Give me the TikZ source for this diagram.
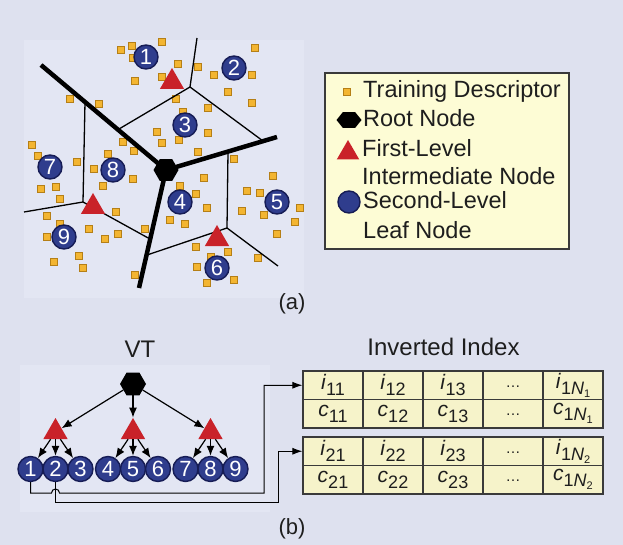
\documentclass[tikz,border=0pt]{standalone}
\usepackage{fontspec}
\setmainfont{Liberation Sans}
\usetikzlibrary{shapes.geometric,arrows.meta}

\definecolor{bgcol}{HTML}{DEE1EF}
\definecolor{panelcol}{HTML}{E3E6F3}
\definecolor{descrfill}{HTML}{F3B531}
\definecolor{descrline}{HTML}{B57F16}
\definecolor{intercol}{HTML}{C92229}
\definecolor{leaffill}{HTML}{2F3D8D}
\definecolor{leafline}{HTML}{161C55}
\definecolor{legendfill}{HTML}{FDFCD5}
\definecolor{cellfill}{HTML}{F6F3CA}
\definecolor{boxline}{HTML}{3A3A3A}
\definecolor{textcol}{HTML}{1E1E1E}

\newcommand{\cellsub}[2]{\textit{#1}\raisebox{-6pt}{\fontsize{18}{18}\selectfont#2}}
\newcommand{\nsub}[1]{\raisebox{-3pt}{\fontsize{11}{11}\selectfont#1}}

\tikzset{
  descr/.style={draw=descrline, fill=descrfill, line width=0.6pt, minimum size=7.5pt, inner sep=0pt},
  inter/.style={regular polygon, regular polygon sides=3, fill=intercol, minimum size=28pt, inner sep=0pt},
  leaf/.style={circle, fill=leaffill, draw=leafline, line width=1.4pt, minimum size=25pt,
    inner sep=0pt, text=white, font=\fontsize{22}{22}\selectfont},
  rootnode/.style={regular polygon, regular polygon sides=6, fill=black, minimum size=26pt, inner sep=0pt},
  voronoi/.style={line width=1.3pt},
  voronoimain/.style={line width=4.5pt},
  legendtext/.style={anchor=base west, inner sep=0pt, text=textcol, font=\fontsize{23.5}{23.5}\selectfont},
  sublabel/.style={text=textcol, font=\fontsize{22}{22}\selectfont},
  heading/.style={anchor=base, inner sep=0pt, text=textcol, font=\fontsize{24}{24}\selectfont},
  cell/.style={draw=boxline, fill=cellfill, line width=1.2pt, minimum width=60pt, minimum height=28.5pt,
    inner sep=0pt, text=textcol, font=\fontsize{21}{21}\selectfont},
  link/.style={line width=1pt, -{Latex[length=10pt,width=7pt]}},
}

\begin{document}
\begin{tikzpicture}[x=1pt, y=-1pt,
  level 1/.style={level distance=48pt, sibling distance=77.5pt},
  level 2/.style={level distance=37pt, sibling distance=25pt},
  edge from parent/.style={draw, line width=1.2pt, -{Latex[length=10pt,width=8pt]}}]
\useasboundingbox (0,0) rectangle (623,545);
\fill[bgcol] (0,0) rectangle (623,545);
\fill[panelcol] (24,40) rectangle (304,298);
\fill[panelcol] (20,365) rectangle (270,512);

% (a) descriptors
\foreach \x/\y [count=\n] in {121/50, 132/46, 162/42, 133/58, 135/81, 162/77, 178/64, 198/67,
    255/48, 214/75, 252/75, 228/92, 252/103, 176/99, 208/108, 183/112, 70/99, 99/104,
    157/132, 162/143, 179/140, 208/133, 123/142, 134/151, 198/152, 108/154, 32/145,
    38/156, 77/162, 94/169, 133/179, 103/186, 41/189, 56/187, 60/199, 234/159, 204/178,
    180/186, 196/194, 207/208, 273/176, 247/191, 260/193, 242/211, 264/215, 300/208,
    295/222, 277/234, 116/212, 47/216, 60/224, 89/229, 105/239, 118/234, 145/229,
    47/237, 79/256, 54/262, 83/268, 170/220, 185/224, 196/247, 228/252, 211/257,
    197/267, 258/258, 234/280, 207/283, 135/275}
  \node[descr] (d\n) at (\x,\y) {};

% (a) cell borders
\coordinate (ctr) at (166,170);
\coordinate (rnw) at (41,65);
\coordinate (re) at (277,137);
\coordinate (rs) at (139,288);
\coordinate (ja) at (190,87);
\coordinate (jb) at (83,202);
\coordinate (jc) at (227,228);
\coordinate (ea) at (197,38);
\coordinate (eb) at (119,129);
\coordinate (ec) at (263,141);
\coordinate (ed) at (85,102);
\coordinate (ee) at (24,212);
\coordinate (ef) at (150,239);
\coordinate (eg) at (228,152);
\coordinate (eh) at (278,266);
\coordinate (ei) at (147,255);
\draw[voronoi] (ea) -- (ja) -- (eb);
\draw[voronoi] (ja) -- (ec);
\draw[voronoi] (ed) -- (jb) -- (ee);
\draw[voronoi] (jb) -- (ef);
\draw[voronoi] (eg) -- (jc) -- (eh);
\draw[voronoi] (jc) -- (ei);
\draw[voronoimain] (ctr) -- (rnw);
\draw[voronoimain] (ctr) -- (re);
\draw[voronoimain] (ctr) -- (rs);

% (a) tree nodes
\node[inter] (ta) at (172,82) {};
\node[inter] (tb) at (93,207) {};
\node[inter] (tc) at (217,239) {};
\foreach \x/\y [count=\n] in {146/57, 234/68, 185/125, 180/202, 277/202, 217/268, 50/167, 113/170, 64/237}
  \node[leaf, minimum size=24pt] (a\n) at (\x,\y) {\n};
\node[rootnode, minimum size=25pt] (hexa) at (ctr) {};

% legend
\draw[draw=boxline, fill=legendfill, line width=1.2pt] (325,73) rectangle (569,249);
\node[descr] (keydescr) at (347,92) {};
\node[rootnode, minimum size=25pt, yscale=0.72, transform shape] (keyroot) at (349,120) {};
\node[inter, minimum size=26pt] (keyinter) at (348,153) {};
\node[leaf, minimum size=22pt] (keyleaf) at (349,202) {};
\node[legendtext] (txdescr) at (363,97.7) {Training Descriptor};
\node[legendtext] (txroot) at (363,126.7) {Root Node};
\node[legendtext] (txfirst) at (362,156.7) {First-Level};
\node[legendtext] (txinter) at (362,185) {Intermediate Node};
\node[legendtext] (txsecond) at (363,208.3) {Second-Level};
\node[legendtext] (txleaf) at (363,238.3) {Leaf Node};

\node[sublabel] (capa) at (292,304) {(a)};

% (b) vocabulary tree
\node[heading] (vtlabel) at (140,357) {VT};
\node[rootnode] (vt) at (133,384) {}
  child {node[inter] (n1) {}
    child {node[leaf] (l1) {1}}
    child {node[leaf] (l2) {2}}
    child {node[leaf] (l3) {3}}
  }
  child {node[inter] (n2) {}
    child {node[leaf] (l4) {4}}
    child {node[leaf] (l5) {5}}
    child {node[leaf] (l6) {6}}
  }
  child {node[inter] (n3) {}
    child {node[leaf] (l7) {7}}
    child {node[leaf] (l8) {8}}
    child {node[leaf] (l9) {9}}
  };

% (b) inverted index
\node[heading] (iilabel) at (443.5,355) {Inverted Index};
\foreach \row/\ytop in {1/371, 2/437} {
  \foreach \col in {1,2,3} {
    \node[cell] (i\row-\col) at ({273+60*\col},{\ytop+14.25}) {\cellsub{i}{\row\col}};
    \node[cell] (c\row-\col) at ({273+60*\col},{\ytop+42.75}) {\cellsub{c}{\row\col}};
  }
  \node[cell] (i\row-4) at (513,{\ytop+14.25}) {\raisebox{-4pt}{\fontsize{15}{15}\selectfont\dots}};
  \node[cell] (c\row-4) at (513,{\ytop+42.75}) {\raisebox{-4pt}{\fontsize{15}{15}\selectfont\dots}};
  \node[cell] (i\row-5) at (573,{\ytop+14.25}) {\cellsub{i}{1\textit{N}\nsub{\row}}};
  \node[cell] (c\row-5) at (573,{\ytop+42.75}) {\cellsub{c}{1\textit{N}\nsub{\row}}};
}

\coordinate (bus1) at (264,493);
\coordinate (bus2) at (278,502);
\draw[link] (l1.south) |- ([xshift=-4pt]l2.south |- bus1) arc[start angle=180, end angle=0, radius=4pt]
  -- (bus1) |- (i1-1.west);
\draw[link] (l2.south) |- (bus2) |- (i2-1.west);

\node[sublabel] (capb) at (292,529) {(b)};
\end{tikzpicture}
\end{document}
